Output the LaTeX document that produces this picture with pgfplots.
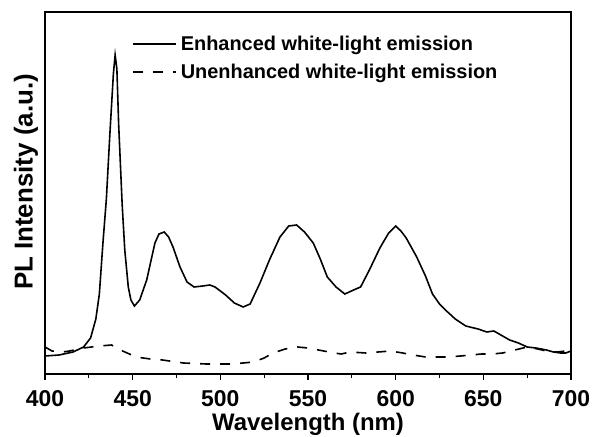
\documentclass[border=0pt]{standalone}
\usepackage{fontspec}
\setmainfont{Liberation Sans}
\usepackage{pgfplots}
\pgfplotsset{compat=1.18}

\begin{document}
\begin{tikzpicture}
\useasboundingbox (0bp,0bp) rectangle (595bp,437bp);
\begin{axis}[
  at={(45bp,63bp)}, anchor=south west,
  scale only axis, width=526bp, height=362bp,
  xmin=400, xmax=700, ymin=0, ymax=362,
  xtick={400,450,...,700}, minor x tick num=1,
  ytick=\empty,
  xtick pos=bottom, tick align=outside,
  major tick length=6bp, minor tick length=4bp,
  axis line style={black, line width=1.2pt},
  tick style={black, line width=1.2pt},
  /pgf/number format/assume math mode=true,
  xticklabel style={font=\bfseries\fontsize{23}{23}\selectfont, anchor=base, yshift=-26bp},
  xlabel={Wavelength (nm)},
  ylabel={PL Intensity (a.u.)},
  xlabel style={font=\bfseries\fontsize{24}{24}\selectfont, at={(axis description cs:0.5,0)}, anchor=base, yshift=-56bp},
  ylabel style={font=\bfseries\fontsize{26}{26}\selectfont, at={(axis description cs:0,0.5)}, anchor=base, yshift=12.5bp, xshift=11bp},
  legend style={at={(axis description cs:0.1654,0.939)}, anchor=north west, draw=none, fill=none,
    font=\bfseries\fontsize{20}{20}\selectfont, row sep=8bp, column sep=2bp, inner sep=0pt},
  legend cell align=left,
  legend image code/.code={\draw[#1] (0bp,0bp) -- (43bp,0bp);},
]
\addplot[black, line width=1.6pt] coordinates {
(400,18) (408,19) (416,22) (422,27) (426,36) (429,55) (431,80) (433,130) (435,175)
(437,240) (439,300) (440,319) (441,305) (442,250) (444,170) (445.5,124) (447.5,87)
(449,74) (451,68) (454,74) (458,94) (462.7,131) (465,140) (468,142) (470.5,137)
(473,127) (477,107) (481,92) (485,87) (490,88) (494,89) (497,87) (500,83) (503,79)
(508,71) (513,67) (517,70) (522.6,91) (528,114) (534,137) (539,148) (543.5,149)
(548,142) (553,131) (557,115) (561,97) (566,87) (571,80) (576,84) (580,87) (585,104)
(591,126) (596,141) (600,148) (603,143) (606,136) (612,117) (617,98) (621,80) (625,70)
(629,63) (634,55) (640,48) (647,45) (652,42) (656,43) (660,39) (665,34) (670,31)
(675,27) (680,26) (686,24) (690,22) (694,21) (697,21) (700,23)
};
\addlegendentry{Enhanced white-light emission}
\addplot[black, line width=1.6pt, dash pattern=on 10bp off 10bp] coordinates {
(400,27) (404,23) (410,22) (414,23) (422,26) (431,28) (438,29) (443,24) (452,17)
(460,15) (467,14) (479,11) (492,10) (505,10) (513,11) (519,12) (525,16) (530,21)
(537,25) (544,27) (550,26) (559,23) (565,21) (569,20) (574,22) (583,21) (590,22)
(597,23) (604,21) (610,19) (617,17) (623,17) (630,17) (637,18) (643,19) (649,20)
(655,20) (661,21) (668,24) (675,27) (681,25) (686,23) (692,22) (697,23) (700,24)
};
\addlegendentry{Unenhanced white-light emission}
\end{axis}
\end{tikzpicture}
\end{document}
